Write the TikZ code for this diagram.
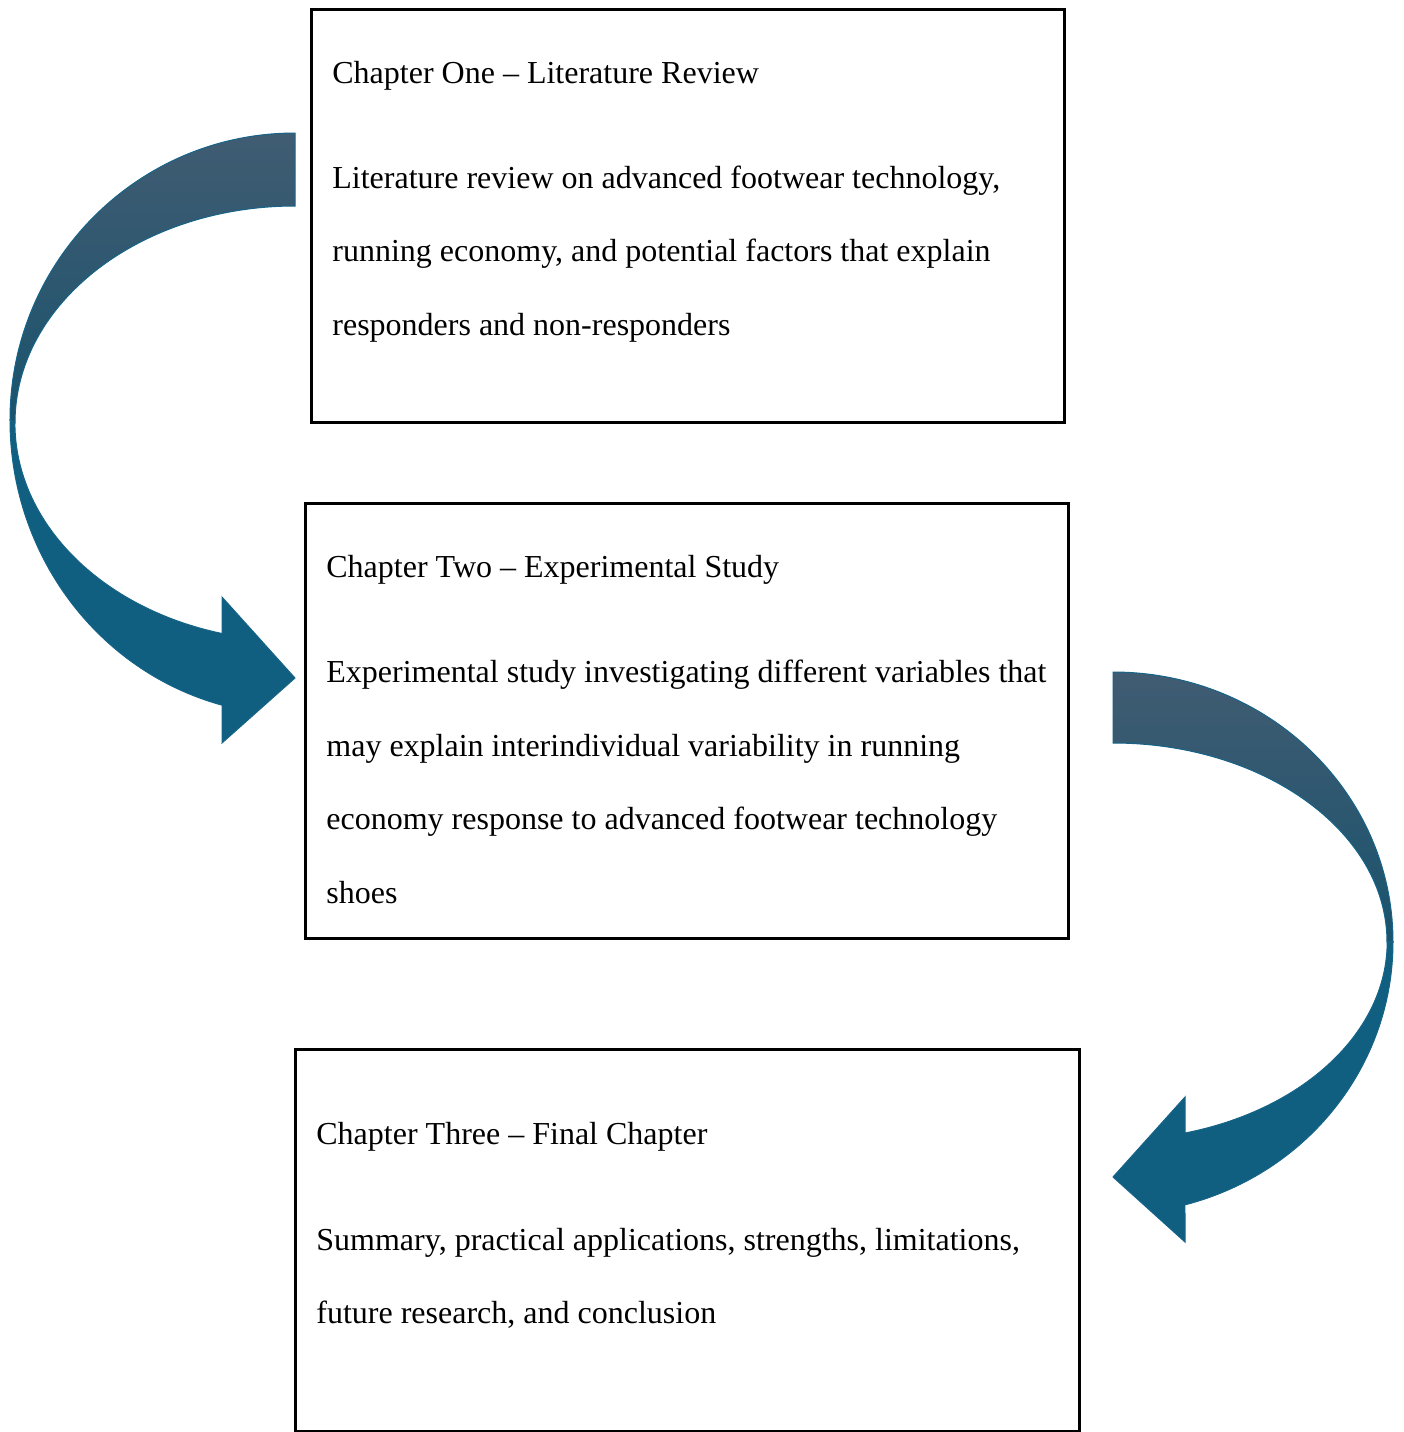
\documentclass[tikz,border=0pt]{standalone}
\usepackage{fontspec}
\setmainfont{Liberation Serif}

\definecolor{arrowtop}{RGB}{64,92,114}
\definecolor{arrowmid}{RGB}{26,83,109}
\definecolor{arrowbody}{RGB}{16,94,128}
\definecolor{arrowline}{RGB}{22,100,136}

\tikzset{
  chapbox/.style={draw=black, line width=1.5pt},
  chaptext/.style={anchor=base west, inner sep=0pt, font=\fontsize{16}{19}\selectfont},
  backpart/.style={draw=arrowline, line width=0.5pt, top color=arrowtop, bottom color=arrowmid},
  frontpart/.style={draw=arrowline, line width=0.5pt, fill=arrowbody}
}

\begin{document}
\begin{tikzpicture}[x=0.5pt,y=-0.5pt]
    \useasboundingbox (0,0) rectangle (1404,1432);

    % left arrow, chapter one to chapter two
    \draw[backpart] (295,133) arc[start angle=270, end angle=180, x radius=285, y radius=287]
      -- (15,423) arc[start angle=180, end angle=270, x radius=280, y radius=217] -- cycle;
    \draw[frontpart] (10,420) arc[start angle=180, end angle=104.8, x radius=285, y radius=295]
      -- (222,743) -- (295,678) -- (222,597) -- (222,633.5)
      arc[start angle=105.1, end angle=180, x radius=280, y radius=218] -- cycle;

    % right arrow, chapter two to chapter three
    \draw[backpart] (1113,672) arc[start angle=270, end angle=360, x radius=280, y radius=270]
      -- (1387,942) arc[start angle=0, end angle=-90, x radius=274, y radius=199] -- cycle;
    \draw[frontpart] (1393,942) arc[start angle=0, end angle=75.1, x radius=280, y radius=272]
      -- (1185,1242) -- (1113,1177) -- (1185,1097) -- (1185,1133)
      arc[start angle=74.8, end angle=0, x radius=274, y radius=198] -- cycle;

    % chapter boxes
    \draw[chapbox] (311,9) rectangle (1064,422);
    \draw[chapbox] (305,503) rectangle (1068,938);
    \draw[chapbox] (295,1049) rectangle (1079,1431);

    \node[chaptext] (one) at (332,83) {Chapter One – Literature Review};
    \node[chaptext] (onea) at (332,188) {Literature review on advanced footwear technology,};
    \node[chaptext] (oneb) at (332,261.5) {running economy, and potential factors that explain};
    \node[chaptext] (onec) at (332,335) {responders and non-responders};

    \node[chaptext] (two) at (326,577) {Chapter Two – Experimental Study};
    \node[chaptext] (twoa) at (326,682.5) {Experimental study investigating different variables that};
    \node[chaptext] (twob) at (326,756) {may explain interindividual variability in running};
    \node[chaptext] (twoc) at (326,829.5) {economy response to advanced footwear technology};
    \node[chaptext] (twod) at (326,903) {shoes};

    \node[chaptext] (three) at (316,1144) {Chapter Three – Final Chapter};
    \node[chaptext] (threea) at (316,1250) {Summary, practical applications, strengths, limitations,};
    \node[chaptext] (threeb) at (316,1323) {future research, and conclusion};
\end{tikzpicture}
\end{document}
